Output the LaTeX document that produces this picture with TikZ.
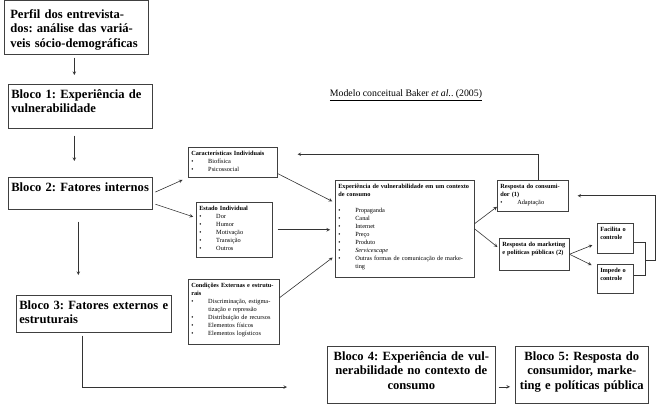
\documentclass[tikz,border=0pt]{standalone}
\usepackage{fontspec}
\setmainfont{Liberation Serif}
\usepackage{tikz}
\usetikzlibrary{arrows}

\newcommand{\bul}{\makebox[17pt][l]{\textbullet}}
\newcommand{\ind}{\hspace*{17pt}}
\AtBeginDocument{\frenchspacing\hyphenpenalty=10000\exhyphenpenalty=10000}

\begin{document}
\begin{tikzpicture}[
    x=1pt, y=1pt,
    bloco/.style={rectangle, draw=black!75, line width=0.6pt, anchor=north west, align=left,
        font=\fontsize{12.6}{14.5}\selectfont\bfseries, inner xsep=3pt, inner ysep=3pt, text height=11pt},
    caixa/.style={rectangle, draw=black!75, line width=0.5pt, anchor=north west, align=left,
        font=\fontsize{6.3}{8}\selectfont, inner sep=3pt, text height=5pt},
    seta/.style={->, >=stealth, line width=0.6pt, black!80}
]
    \useasboundingbox (0,0) rectangle (656,405);

    % coluna dos blocos
    \node[bloco, inner xsep=6pt, text width=132pt, text height=15pt, text depth=33pt] (perfil) at (4,405)
        {Perfil dos entrevista-\\dos: análise das variá-\\veis sócio-demográficas};
    \node[bloco, text width=138pt, text depth=27pt] (bloco1) at (8,321) {Bloco 1: Experiência de\\vulnerabilidade};
    \node[bloco, text width=138pt, text depth=15pt] (bloco2) at (8,228) {Bloco 2: Fatores internos};
    \node[bloco, text width=149pt, text depth=20pt] (bloco3) at (16,110) {Bloco 3: Fatores externos e\\estruturais};
    \node[bloco, align=center, text width=162pt, text depth=40pt] (bloco4) at (327,59)
        {Bloco 4: Experiência de vul-\\nerabilidade no contexto de\\consumo};
    \node[bloco, align=center, text width=127pt, text depth=40pt] (bloco5) at (515,59)
        {Bloco 5: Resposta do\\consumidor, marke-\\ting e políticas pública};

    % modelo de Baker
    \node[font=\fontsize{9.8}{12}\selectfont] (titulo) at (406,310)
        {\underline{Modelo conceitual Baker \textit{et al.}. (2005)}};
    \node[caixa, text width=83pt, text depth=19pt] (caract) at (188,258)
        {\textbf{Características Individuais}\\\bul Biofísica\\\bul Psicossocial};
    \node[caixa, text width=70pt, text depth=44pt] (estado) at (196,203)
        {\textbf{Estado Individual}\\\bul Dor\\\bul Humor\\\bul Motivação\\\bul Transição\\\bul Outros};
    \node[caixa, text width=85pt, text depth=54pt] (condicoes) at (188,126)
        {\textbf{Condições Externas e estrutu-\\rais}\\\bul Discriminação, estigma-\\\ind tização e repressão\\\bul Distribuição de recursos\\\bul Elementos físicos\\\bul Elementos logísticos};
    \node[caixa, text width=133pt, text depth=86pt] (experiencia) at (335,225)
        {\textbf{Experiência de vulnerabilidade em um contexto\\de consumo}\\[8pt]\bul Propaganda\\\bul Canal\\\bul Internet\\\bul Preço\\\bul Produto\\\bul \textit{Servicescape}\\\bul Outras formas de comunicação de marke-\\\ind ting};
    \node[caixa, text width=65pt, text depth=20pt] (respcons) at (497,225)
        {\textbf{Resposta do consumi-\\dor (1)}\\\bul Adaptação};
    \node[caixa, text width=64pt, text depth=21pt] (respmkt) at (499,167)
        {\textbf{Resposta do marketing\\e políticas públicas (2)}};
    \node[caixa, text width=30pt, text depth=19pt] (facilita) at (597,182) {\textbf{Facilita o\\controle}};
    \node[caixa, text width=30pt, text depth=18pt] (impede) at (597,141) {\textbf{Impede o\\controle}};

    \coordinate (fim3) at (287,18);
    \coordinate (juncao) at (645,145);

    \draw[seta, shorten <=3pt, shorten >=9pt] ([xshift=-2pt]perfil.south) -- ([xshift=-2pt]perfil.south |- bloco1.north);
    \draw[seta, shorten <=7pt, shorten >=16pt] ([xshift=-6pt]bloco1.south) -- ([xshift=-6pt]bloco1.south |- bloco2.north);
    \draw[seta, shorten <=12pt, shorten >=20pt] ([xshift=-2pt]bloco2.south) -- ([xshift=-2pt]bloco2.south |- bloco3.north);
    \draw[seta, shorten <=3pt] ([xshift=-11.5pt]bloco3.south) |- (fim3);
    \draw[seta, shorten <=3pt, shorten >=5pt] ([yshift=-12pt]bloco4.east) -- ([yshift=-12pt]bloco4.east -| bloco5.west);

    \draw[seta, shorten <=3pt, shorten >=6pt] (bloco2.east) -- (caract.south west);
    \draw[seta, shorten <=3pt, shorten >=3pt] ([yshift=-10pt]bloco2.east) -- ([yshift=12pt]estado.west);
    \draw[seta, shorten >=3pt] ([yshift=4pt]caract.south east) -- ([yshift=26pt]experiencia.west);
    \draw[seta, shorten <=5pt, shorten >=5pt] (estado.east) -- (estado.east -| experiencia.west);
    \draw[seta, shorten >=3pt] ([yshift=14pt]condicoes.east) -- ([yshift=-27pt]experiencia.west);
    \draw[seta] ([yshift=5pt]experiencia.east) -- ([yshift=-11pt]respcons.west);
    \draw[seta, shorten >=2pt] (experiencia.east) -- ([yshift=6pt]respmkt.west);
    \draw[seta, shorten >=5pt] (respmkt.east) -- ([yshift=-5pt]facilita.west);
    \draw[seta, shorten >=6pt] (respmkt.east) -- ([yshift=11pt]impede.west);

    % retornos
    \draw[line width=0.6pt, black!80] ([yshift=-4pt]facilita.east) -- ++(12,0) |- ([yshift=3pt]impede.east);
    \draw[seta, shorten >=9pt] (juncao) -- ++(10,0) |- (respcons.east);
    \draw[seta, shorten >=20pt] ([xshift=5.5pt]respcons.north) |- ([yshift=8pt]caract.east);
\end{tikzpicture}
\end{document}
